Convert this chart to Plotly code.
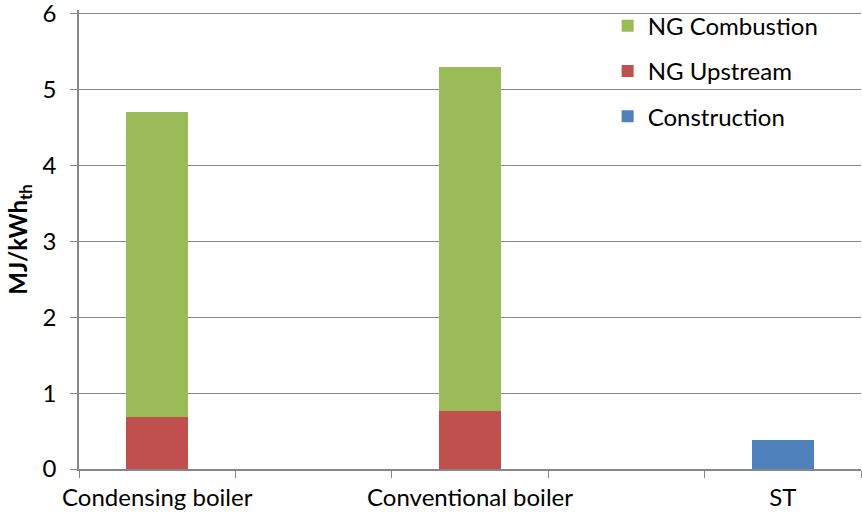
import plotly.graph_objects as go

# Categories (blank slots keep the spacing between the three systems)
categories = ["Condensing boiler", " ", "Conventional boiler", "  ", "ST"]
construction = [0, 0, 0, 0, 0.38]
ng_upstream = [0.68, 0, 0.765, 0, 0]
ng_combustion = [4.03, 0, 4.535, 0, 0]

# stacking order bottom -> top, with legend rank (top entry first)
series = [
    ("Construction", construction, "#4F81BD", 3),
    ("NG Upstream", ng_upstream, "#C0504D", 2),
    ("NG Combustion", ng_combustion, "#9BBB59", 1),
]

font_family = "Lato, Open Sans, sans-serif"
grid_color = "#878787"
fs = 24

fig = go.Figure()
for name, vals, color, rank in series:
    fig.add_trace(go.Bar(
        x=categories,
        y=[v if v else None for v in vals],
        name=name,
        legendgroup=name,
        legendrank=rank,
        marker=dict(color=color, line=dict(width=0)),
        width=0.4,
    ))

fig.update_layout(
    barmode="stack",
    width=862,
    height=518,
    margin=dict(l=79, r=1, t=10, b=49, autoexpand=False),
    plot_bgcolor="white",
    paper_bgcolor="white",
    font=dict(family=font_family, size=fs, color="#000000"),
    showlegend=True,
    legend=dict(
        x=0.676, y=0.993, xanchor="left", yanchor="top",
        xref="paper", yref="container",
        traceorder="grouped",
        tracegroupgap=11,
        bgcolor="rgba(0,0,0,0)",
        font=dict(size=fs),
        itemwidth=30,
    ),
    xaxis=dict(
        type="category",
        categoryorder="array",
        categoryarray=categories,
        range=[-0.5, 4.5],
        tickson="boundaries",
        ticks="outside",
        ticklen=7,
        tickcolor=grid_color,
        tickangle=0,
        ticklabelstandoff=6,
        ticklabeloverflow="allow",
        automargin=False,
        showline=True,
        linecolor=grid_color,
        linewidth=1.5,
        showgrid=False,
        tickfont=dict(size=fs),
    ),
    yaxis=dict(
        range=[0, 6.05],
        tickvals=[0, 1, 2, 3, 4, 5, 6],
        ticks="outside",
        ticklen=7,
        tickcolor=grid_color,
        ticklabelstandoff=9,
        ticklabeloverflow="allow",
        automargin=False,
        showline=True,
        linecolor=grid_color,
        linewidth=1.5,
        showgrid=True,
        gridcolor=grid_color,
        gridwidth=1,
        zeroline=False,
        tickfont=dict(size=fs),
        title=dict(text="<b>MJ/kWh<sub>th</sub></b>", font=dict(size=fs), standoff=8),
    ),
)

fig.write_html("out.html")
